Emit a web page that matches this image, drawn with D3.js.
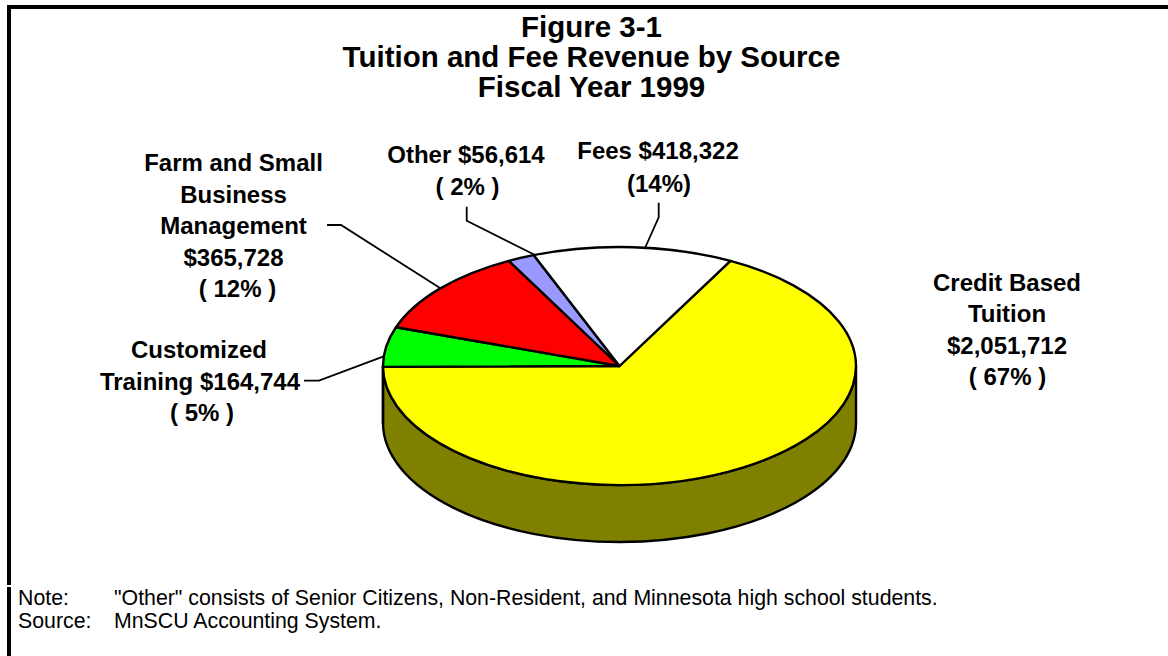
<!DOCTYPE html>
<html>
<head>
<meta charset="utf-8">
<script src="https://cdn.jsdelivr.net/npm/d3@7"></script>
<style>
  html, body { margin: 0; padding: 0; background: #fff; }
  svg { display: block; }
  text { font-family: "Liberation Sans", Arial, sans-serif; fill: #000; }
  .title { font-size: 29.5px; font-weight: bold; text-anchor: middle; }
  .label { font-size: 24px; font-weight: bold; text-anchor: middle; }
  .foot { font-size: 21.3px; }
</style>
</head>
<body>
<svg id="chart" width="1168" height="656"></svg>
<script>
// Fiscal year 1999 revenue by source, in dollars as printed on the labels
const sources = ["Credit Based Tuition", "Customized Training", "Farm and Small Business Management", "Other", "Fees"];
const revenue = [2051712, 164744, 365728, 56614, 418322];
const topColors = ["#ffff00", "#00ff00", "#ff0000", "#9999ff", "#ffffff"];
const wallColors = ["#808000", "#008000", "#800000", "#4d4d80", "#808080"];

const titleLines = ["Figure 3-1", "Tuition and Fee Revenue by Source", "Fiscal Year 1999"];
const labelLines = [
  ["Credit Based", "Tuition", "$2,051,712", "( 67% )"],
  ["Customized", "Training $164,744", "( 5% )"],
  ["Farm and Small", "Business", "Management", "$365,728", "( 12% )"],
  ["Other $56,614", "( 2% )"],
  ["Fees $418,322", "(14%)"]
];
const noteRows = [
  ["Note:", "\"Other\" consists of Senior Citizens, Non-Resident, and Minnesota high school students."],
  ["Source:", "MnSCU Accounting System."]
];

// Layout of the tilted pie
const cx = 619.5, cy = 366, rx = 236.5, ry = 119, depth = 57;
const firstSliceAngle = 28 * Math.PI / 180;
const edge = 2.4;

const svg = d3.select("#chart");

// Page rule along the top and left
svg.append("rect").attr("x", 7).attr("y", 5).attr("width", 1161).attr("height", 4).attr("fill", "#000");
svg.append("rect").attr("x", 7).attr("y", 5).attr("width", 4).attr("height", 580).attr("fill", "#000");
svg.append("rect").attr("x", 7).attr("y", 587).attr("width", 4).attr("height", 69).attr("fill", "#000");

// Title
svg.append("g").selectAll("text").data(titleLines).join("text")
  .attr("class", "title").attr("x", 591.5).attr("y", (d, i) => 36.7 + i * 30).text(d => d);

const pie = d3.pie().sort(null).value(d => d)
  .startAngle(firstSliceAngle).endAngle(firstSliceAngle + 2 * Math.PI);
const slices = pie(revenue);

// Point on the top-face rim; angle is clockwise from twelve o'clock
const rim = a => [cx + rx * Math.sin(a), cy - ry * Math.cos(a)];

// Outer wall, one segment per slice that faces the viewer
const wall = svg.append("g");
slices.forEach((s, i) => {
  for (const turn of [0, 2 * Math.PI]) {
    const a0 = Math.max(s.startAngle, Math.PI / 2 + turn);
    const a1 = Math.min(s.endAngle, 3 * Math.PI / 2 + turn);
    if (a1 <= a0) continue;
    const [x0, y0] = rim(a0), [x1, y1] = rim(a1);
    const d = `M${x0},${y0}A${rx},${ry} 0 0 1 ${x1},${y1}` +
              `L${x1},${y1 + depth}A${rx},${ry} 0 0 0 ${x0},${y0 + depth}Z`;
    wall.append("path").attr("d", d).attr("fill", wallColors[i])
      .attr("stroke", "#000").attr("stroke-width", edge).attr("stroke-linejoin", "round");
  }
});

// Top face: unit-radius arcs squashed into the ellipse
const arc = d3.arc().innerRadius(0).outerRadius(1);
svg.append("g")
  .attr("transform", `translate(${cx},${cy}) scale(${rx},${ry})`)
  .selectAll("path").data(slices).join("path")
  .attr("d", arc)
  .attr("fill", (d, i) => topColors[i])
  .attr("stroke", "#000").attr("stroke-width", edge)
  .attr("stroke-linejoin", "round")
  .attr("vector-effect", "non-scaling-stroke");

// Leader lines from each label to its slice
const leaders = [
  [[327, 225], [341, 225], [440, 288]],
  [[304, 380.7], [319, 380.7], [383, 356.7]],
  [[466.7, 206.7], [466.7, 220.7], [535, 255]],
  [[658.7, 202.7], [658.7, 217.3], [645, 248]]
];
const lineGen = d3.line();
svg.append("g").selectAll("path").data(leaders).join("path")
  .attr("d", lineGen).attr("fill", "none").attr("stroke", "#000").attr("stroke-width", 1.8);

// Slice labels: centre x, first baseline, line step, and a per-line shift for the percent rows
const labelLayout = [
  { x: 1007, y: 291, step: 31.4, shift: [0, 0, 0, 0.5] },
  { x: 200, y: 358, step: 31.5, shift: [-1, 0, 2] },
  { x: 233.5, y: 171, step: 31.5, shift: [0, 0, 0, 0, 4] },
  { x: 466, y: 162.7, step: 32.3, shift: [0, 1.5] },
  { x: 658, y: 159.3, step: 32.4, shift: [0, 1] }
];
const labels = svg.append("g");
labelLines.forEach((lines, i) => {
  const p = labelLayout[i];
  labels.selectAll(null).data(lines).join("text")
    .attr("class", "label")
    .attr("x", (d, j) => p.x + p.shift[j])
    .attr("y", (d, j) => p.y + j * p.step)
    .text(d => d);
});

// Footnotes
const foot = svg.append("g");
noteRows.forEach((row, i) => {
  foot.append("text").attr("class", "foot").attr("x", 18).attr("y", 605 + i * 23).text(row[0]);
  foot.append("text").attr("class", "foot").attr("x", 114).attr("y", 605 + i * 23).text(row[1]);
});
</script>
</body>
</html>
